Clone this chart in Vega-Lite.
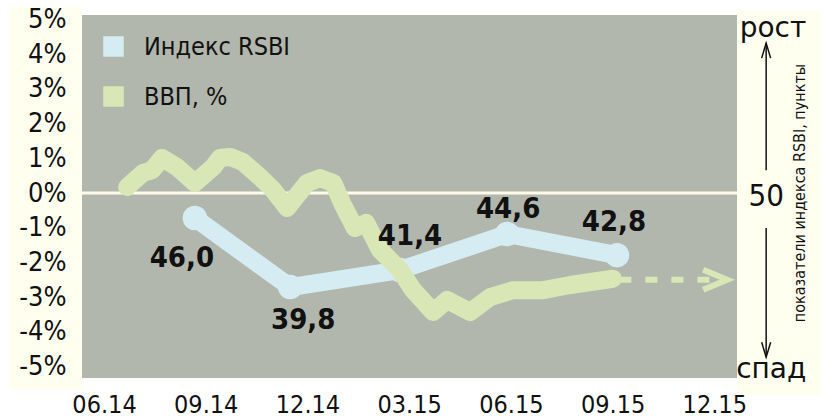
{
  "$schema": "https://vega.github.io/schema/vega-lite/v6.json",
  "width": 655,
  "height": 363,
  "autosize": {"type": "none"},
  "padding": {"left": 82, "top": 15, "right": 88, "bottom": 41},
  "background": "#ffffff",
  "view": {"fill": "#b1b7ad", "stroke": null},
  "config": {
    "axis": {"labelOverlap": false, "labelBound": false, "labelFlush": false}
  },
  "datasets": {
    "gdp": [
      {"m": 0.68, "gdp": 0.17}, {"m": 1.15, "gdp": 0.58}, {"m": 1.42, "gdp": 0.66},
      {"m": 1.71, "gdp": 1.01}, {"m": 2.15, "gdp": 0.75}, {"m": 2.68, "gdp": 0.29},
      {"m": 3.22, "gdp": 0.75}, {"m": 3.42, "gdp": 1.01}, {"m": 3.72, "gdp": 1.04},
      {"m": 4.10, "gdp": 0.89}, {"m": 4.60, "gdp": 0.46}, {"m": 4.99, "gdp": 0.09},
      {"m": 5.40, "gdp": -0.43}, {"m": 5.99, "gdp": 0.29}, {"m": 6.37, "gdp": 0.43},
      {"m": 6.76, "gdp": 0.29}, {"m": 7.05, "gdp": -0.35}, {"m": 7.40, "gdp": -1.01},
      {"m": 7.73, "gdp": -0.86}, {"m": 8.14, "gdp": -1.64}, {"m": 8.73, "gdp": -2.22},
      {"m": 9.12, "gdp": -2.80}, {"m": 9.71, "gdp": -3.43}, {"m": 10.12, "gdp": -3.08},
      {"m": 10.80, "gdp": -3.43}, {"m": 11.39, "gdp": -3.00}, {"m": 12.06, "gdp": -2.80},
      {"m": 12.95, "gdp": -2.80}, {"m": 13.75, "gdp": -2.65}, {"m": 15.01, "gdp": -2.47}
    ],
    "rsbi": [
      {"m": 2.68, "pos": -0.72, "label": "46,0"},
      {"m": 5.49, "pos": -2.71, "label": "39,8"},
      {"m": 8.73, "pos": -2.22, "label": "41,4"},
      {"m": 11.89, "pos": -1.18, "label": "44,6"},
      {"m": 15.13, "pos": -1.79, "label": "42,8"}
    ],
    "one": [{}]
  },
  "layer": [
    {
      "data": {"name": "rsbi"},
      "mark": {"type": "line", "strokeWidth": 18, "opacity": 0},
      "encoding": {
        "x": {
          "field": "m", "type": "quantitative",
          "scale": {"domain": [-0.65, 18.67], "nice": false, "zero": false},
          "axis": {
            "values": [0, 3, 6, 9, 12, 15, 18], "tickCount": 20,
            "labelExpr": "['06.14','09.14','12.14','03.15','06.15','09.15','12.15'][round(datum.value/3)]",
            "ticks": false, "domain": false, "grid": false, "title": null, "zindex": 1,
            "labelFont": "DejaVu Sans Condensed", "labelFontSize": 25, "labelColor": "#111111",
            "labelPadding": 14, "labelFlush": false, "labelOverlap": false
          }
        },
        "y": {
          "field": "pos", "type": "quantitative",
          "scale": {"domain": [-5.33, 5.13], "nice": false, "zero": false},
          "axis": {
            "values": [-5, -4, -3, -2, -1, 0, 1, 2, 3, 4, 5], "tickCount": 20,
            "labelExpr": "datum.value + '%'",
            "ticks": false, "domain": false, "grid": false, "title": null, "zindex": 1,
            "labelFont": "DejaVu Sans Condensed", "labelFontSize": 27, "labelColor": "#111111",
            "labelPadding": 16, "labelFlush": false, "labelOverlap": false
          }
        }
      }
    },
    {
      "data": {"name": "one"},
      "mark": {"type": "rect", "color": "#fffff0"},
      "encoding": {
        "x": {"datum": -2.8, "type": "quantitative"},
        "x2": {"datum": -0.65},
        "y": {"datum": -5.65, "type": "quantitative"},
        "y2": {"datum": 5.36}
      }
    },
    {
      "data": {"name": "one"},
      "mark": {"type": "rect", "color": "#fffff0"},
      "encoding": {
        "x": {"datum": 18.67, "type": "quantitative"},
        "x2": {"datum": 21.12},
        "y": {"datum": -5.82, "type": "quantitative"},
        "y2": {"datum": 5.27}
      }
    },
    {
      "data": {"name": "one"},
      "mark": {"type": "rule", "color": "#fffbea", "strokeWidth": 3},
      "encoding": {"y": {"datum": 0, "type": "quantitative"}}
    },
    {
      "data": {"name": "rsbi"},
      "mark": {"type": "line", "strokeWidth": 18, "strokeCap": "round", "strokeJoin": "round"},
      "encoding": {
        "x": {"field": "m", "type": "quantitative"},
        "y": {"field": "pos", "type": "quantitative"},
        "color": {
          "datum": "Индекс RSBI",
          "scale": {"domain": ["Индекс RSBI", "ВВП, %"], "range": ["#d5ecf3", "#d8e7b5"]},
          "legend": {
            "title": null, "orient": "top-left", "offset": 19, "padding": 0,
            "symbolType": "square", "symbolSize": 420, "symbolStrokeWidth": 0,
            "labelFont": "DejaVu Sans Condensed", "labelFontSize": 25, "labelColor": "#111111",
            "labelOffset": 18, "rowPadding": 24,
            "encode": {"symbols": {"update": {"fill": {"scale": "color", "field": "value"}, "strokeWidth": {"value": 0}, "opacity": {"value": 1}}}}
          }
        }
      }
    },
    {
      "data": {"name": "rsbi"},
      "mark": {"type": "circle", "size": 600, "color": "#d5ecf3", "opacity": 1},
      "encoding": {
        "x": {"field": "m", "type": "quantitative"},
        "y": {"field": "pos", "type": "quantitative"}
      }
    },
    {
      "data": {"name": "gdp"},
      "mark": {"type": "line", "strokeWidth": 18, "strokeCap": "round", "strokeJoin": "round"},
      "encoding": {
        "x": {"field": "m", "type": "quantitative"},
        "y": {"field": "gdp", "type": "quantitative"},
        "color": {"datum": "ВВП, %"}
      }
    },
    {
      "data": {"name": "one"},
      "mark": {"type": "rule", "color": "#d8e7b5", "strokeWidth": 6, "strokeDash": [12, 14]},
      "encoding": {
        "x": {"datum": 15.2, "type": "quantitative"},
        "x2": {"datum": 18.2},
        "y": {"datum": -2.5, "type": "quantitative"}
      }
    },
    {
      "data": {"name": "one"},
      "mark": {"type": "point", "shape": "M-2,-0.83L0,0L-2,0.83", "size": 576, "filled": false, "stroke": "#d8e7b5", "strokeWidth": 6, "strokeJoin": "miter", "opacity": 1},
      "encoding": {
        "x": {"datum": 18.38, "type": "quantitative"},
        "y": {"datum": -2.5, "type": "quantitative"}
      }
    },
    {
      "data": {"name": "rsbi"},
      "transform": [{"filter": {"field": "label", "equal": "46,0"}}],
      "mark": {"type": "text", "font": "DejaVu Sans Condensed", "fontWeight": "bold", "fontSize": 29, "color": "#111111", "align": "center", "baseline": "middle", "dx": -13, "dy": 40},
      "encoding": {"x": {"field": "m", "type": "quantitative"}, "y": {"field": "pos", "type": "quantitative"}, "text": {"field": "label"}}
    },
    {
      "data": {"name": "rsbi"},
      "transform": [{"filter": {"field": "label", "equal": "39,8"}}],
      "mark": {"type": "text", "font": "DejaVu Sans Condensed", "fontWeight": "bold", "fontSize": 29, "color": "#111111", "align": "center", "baseline": "middle", "dx": 13, "dy": 33},
      "encoding": {"x": {"field": "m", "type": "quantitative"}, "y": {"field": "pos", "type": "quantitative"}, "text": {"field": "label"}}
    },
    {
      "data": {"name": "rsbi"},
      "transform": [{"filter": {"field": "label", "equal": "41,4"}}],
      "mark": {"type": "text", "font": "DejaVu Sans Condensed", "fontWeight": "bold", "fontSize": 29, "color": "#111111", "align": "center", "baseline": "middle", "dx": 10, "dy": -34},
      "encoding": {"x": {"field": "m", "type": "quantitative"}, "y": {"field": "pos", "type": "quantitative"}, "text": {"field": "label"}}
    },
    {
      "data": {"name": "rsbi"},
      "transform": [{"filter": {"field": "label", "equal": "44,6"}}],
      "mark": {"type": "text", "font": "DejaVu Sans Condensed", "fontWeight": "bold", "fontSize": 29, "color": "#111111", "align": "center", "baseline": "middle", "dx": 1, "dy": -25},
      "encoding": {"x": {"field": "m", "type": "quantitative"}, "y": {"field": "pos", "type": "quantitative"}, "text": {"field": "label"}}
    },
    {
      "data": {"name": "rsbi"},
      "transform": [{"filter": {"field": "label", "equal": "42,8"}}],
      "mark": {"type": "text", "font": "DejaVu Sans Condensed", "fontWeight": "bold", "fontSize": 29, "color": "#111111", "align": "center", "baseline": "middle", "dx": -3, "dy": -33},
      "encoding": {"x": {"field": "m", "type": "quantitative"}, "y": {"field": "pos", "type": "quantitative"}, "text": {"field": "label"}}
    },
    {
      "data": {"name": "one"},
      "mark": {"type": "text", "text": "рост", "font": "DejaVu Sans", "fontSize": 28, "color": "#111111", "align": "center", "baseline": "alphabetic"},
      "encoding": {"x": {"datum": 19.73, "type": "quantitative"}, "y": {"datum": 4.5, "type": "quantitative"}}
    },
    {
      "data": {"name": "one"},
      "mark": {"type": "text", "text": "спад", "font": "DejaVu Sans", "fontSize": 28, "color": "#111111", "align": "center", "baseline": "alphabetic"},
      "encoding": {"x": {"datum": 19.68, "type": "quantitative"}, "y": {"datum": -5.33, "type": "quantitative"}}
    },
    {
      "data": {"name": "one"},
      "mark": {"type": "text", "text": "50", "font": "DejaVu Sans Condensed", "fontSize": 31, "color": "#111111", "align": "center", "baseline": "middle"},
      "encoding": {"x": {"datum": 19.53, "type": "quantitative"}, "y": {"datum": -0.12, "type": "quantitative"}}
    },
    {
      "data": {"name": "one"},
      "mark": {"type": "text", "text": "показатели индекса RSBI, пункты", "font": "DejaVu Sans Condensed", "fontSize": 16, "color": "#111111", "align": "center", "baseline": "middle", "angle": 270},
      "encoding": {"x": {"datum": 20.53, "type": "quantitative"}, "y": {"datum": 0, "type": "quantitative"}}
    },
    {
      "data": {"name": "one"},
      "mark": {"type": "rule", "color": "#111111", "strokeWidth": 1.5},
      "encoding": {
        "x": {"datum": 19.53, "type": "quantitative"},
        "y": {"datum": 4.32, "type": "quantitative"},
        "y2": {"datum": 0.66}
      }
    },
    {
      "data": {"name": "one"},
      "mark": {"type": "rule", "color": "#111111", "strokeWidth": 1.5},
      "encoding": {
        "x": {"datum": 19.53, "type": "quantitative"},
        "y": {"datum": -1.01, "type": "quantitative"},
        "y2": {"datum": -4.73}
      }
    },
    {
      "data": {"name": "one"},
      "mark": {"type": "point", "shape": "M-0.6,2L0,0L0.6,2", "size": 225, "filled": false, "stroke": "#111111", "strokeWidth": 1.5, "opacity": 1},
      "encoding": {"x": {"datum": 19.53, "type": "quantitative"}, "y": {"datum": 4.32, "type": "quantitative"}}
    },
    {
      "data": {"name": "one"},
      "mark": {"type": "point", "shape": "M-0.6,-2L0,0L0.6,-2", "size": 225, "filled": false, "stroke": "#111111", "strokeWidth": 1.5, "opacity": 1},
      "encoding": {"x": {"datum": 19.53, "type": "quantitative"}, "y": {"datum": -4.73, "type": "quantitative"}}
    }
  ]
}
